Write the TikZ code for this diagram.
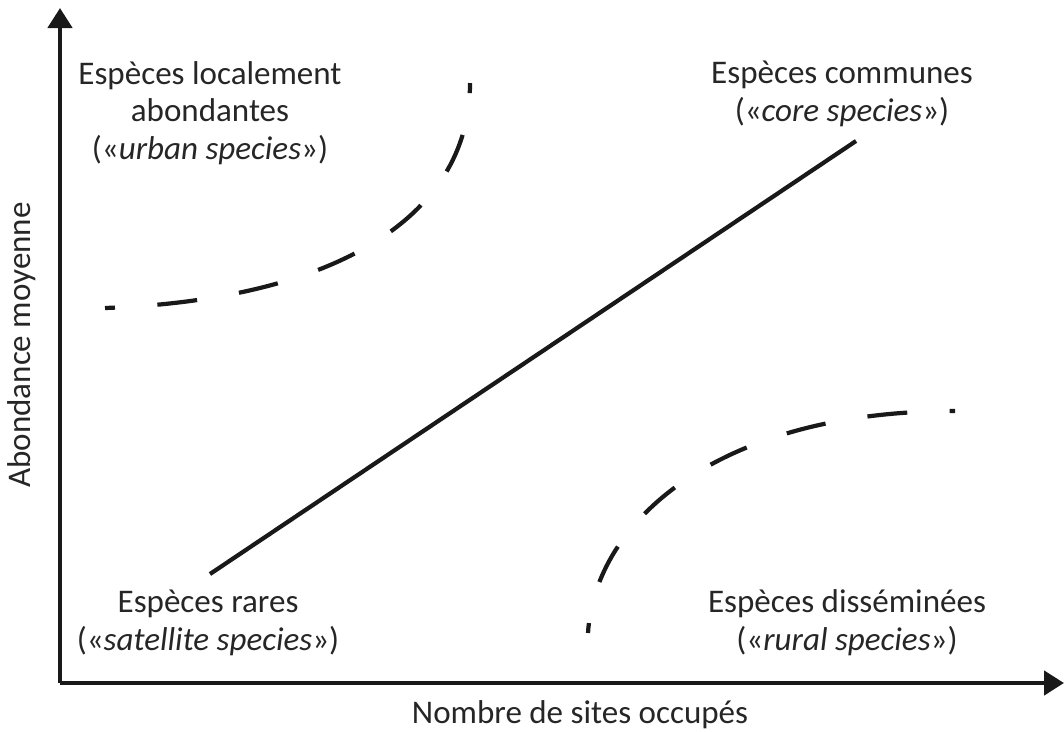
\documentclass[tikz,border=0pt]{standalone}
\usepackage{fontspec}
\setmainfont{Carlito}
\usetikzlibrary{arrows.meta,positioning}

\begin{document}
\begin{tikzpicture}[
      x=0.02cm, y=-0.02cm,
      font=\fontsize{18.8}{21.5}\selectfont,
      lbl/.style={align=center, inner sep=0pt, text=black!85},
      axis/.style={line width=2.6pt, -{Triangle[length=0.4cm,width=0.48cm]}, black!90},
      trend/.style={line width=2.4pt, black!90},
      dashcurve/.style={trend, dash pattern=on 0.8cm off 0.85cm},
    ]
    \useasboundingbox (0,0) rectangle (1064,731);
    % axes
    \coordinate (o) at (60,683);
    \coordinate (ytip) at (60,8);
    \coordinate (xtip) at (1064,683);
    \draw[axis] (o) -- (ytip);
    \draw[axis] (o) -- (xtip);
    \node[lbl] (xlab) at (580,715) {Nombre de sites occupés};
    \node[lbl, rotate=90] (ylab) at (22,345) {Abondance moyenne};
    % categories
    \node[lbl] (urban) at (210,113) {Espèces localement\\abondantes\\(«\textit{urban species}»)};
    \node[lbl] (core) at (842,94) {Espèces communes\\(«\textit{core species}»)};
    \node[lbl] (rare) at (208,623) {Espèces rares\\(«\textit{satellite species}»)};
    \node[lbl] (rural) at (847,623) {Espèces disséminées\\(«\textit{rural species}»)};
    % trends
    \coordinate (s0) at (210,574);
    \coordinate (s1) at (856,141);
    \draw[trend] (s0) -- (s1);
    \coordinate (u0) at (105,308);
    \coordinate (u1) at (470,83);
    \draw[dashcurve, dash phase=0.6cm] (u0) .. controls (330,300) and (470,220) .. (u1);
    \coordinate (r0) at (588,633);
    \coordinate (r1) at (955,411);
    \draw[dashcurve, dash phase=0.6cm] (r0) .. controls (595,520) and (720,411) .. (r1);
  \end{tikzpicture}
\end{document}
